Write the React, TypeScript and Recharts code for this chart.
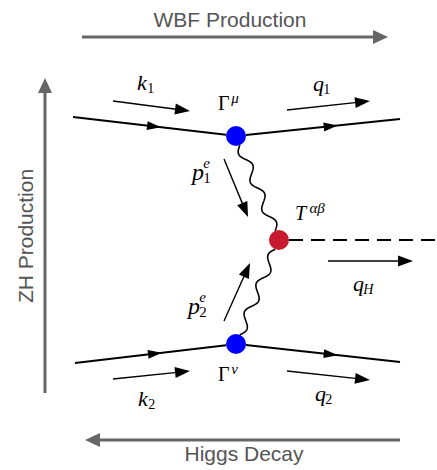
import React from 'react';
import { ScatterChart, XAxis, YAxis, Scatter, ReferenceLine } from 'recharts';

const WIDTH = 437;
const HEIGHT = 470;

// Diagram coordinates: x to the right, y downwards (y axis is reversed).
const vertices = [
  { x: 236, y: 136, kind: 'gauge' },
  { x: 279, y: 240, kind: 'tensor' },
  { x: 236, y: 344, kind: 'gauge' },
];

// quark lines, with the place of the flow arrow as a fraction of the leg
const quarkLegs = [
  { from: [73, 117], to: [236, 136], arrowAt: 0.54 },
  { from: [236, 136], to: [400, 119], arrowAt: 0.62 },
  { from: [75, 363], to: [236, 344], arrowAt: 0.54 },
  { from: [236, 344], to: [400, 362], arrowAt: 0.62 },
];

const bosonLinks = [
  { from: [236, 136], to: [279, 240] },
  { from: [279, 240], to: [236, 344] },
];

const higgsLegs = [{ from: [279, 240], to: [437, 240] }];

// k1, q1, p1, p2, qH, k2, q2
const momentumArrows = [
  { from: [113, 101], to: [190, 111] },
  { from: [287, 110], to: [370, 101] },
  { from: [224, 159], to: [248, 217] },
  { from: [224, 321], to: [250, 263] },
  { from: [328, 261], to: [413, 261] },
  { from: [113, 379], to: [190, 371] },
  { from: [287, 371], to: [370, 380] },
];

// WBF, ZH, Higgs decay
const channelArrows = [
  { from: [82, 37], to: [388, 37] },
  { from: [45, 393], to: [45, 78] },
  { from: [400, 440], to: [85, 440] },
];

const symbols = [
  { x: 137, y: 90, base: 'k', sub: '1', kind: 'momentum' },
  { x: 313, y: 91, base: 'q', sub: '1', kind: 'momentum' },
  { x: 218, y: 110, base: 'Γ', sup: 'μ', kind: 'vertex' },
  { x: 192, y: 180, base: 'p', sub: '1', sup: 'e', kind: 'exchange' },
  { x: 295, y: 220, base: 'T', sup: 'αβ', kind: 'vertex' },
  { x: 353, y: 291, base: 'q', sub: 'H', kind: 'momentum' },
  { x: 188, y: 314, base: 'p', sub: '2', sup: 'e', kind: 'exchange' },
  { x: 218, y: 381, base: 'Γ', sup: 'ν', kind: 'vertex' },
  { x: 138, y: 406, base: 'k', sub: '2', kind: 'momentum' },
  { x: 315, y: 401, base: 'q', sub: '2', kind: 'momentum' },
];

const captions = [
  { x: 230, y: 27, text: 'WBF Production', rotate: 0 },
  { x: 33, y: 236, text: 'ZH Production', rotate: -90 },
  { x: 244, y: 461, text: 'Higgs Decay', rotate: 0 },
];

const VERTEX_R = 10;
const VERTEX_FILL: Record<string, string> = { gauge: '#0000ff', tensor: '#c8192e' };
const GUIDE_GREY = '#666666';
const SERIF = "'Liberation Serif', 'Times New Roman', serif";
const SANS = "'Liberation Sans', Arial, Helvetica, sans-serif";

const SYMBOL_FONT: Record<string, { size: number; script: number; rise: number; drop: number }> = {
  momentum: { size: 22, script: 14, rise: 9, drop: 3 },
  exchange: { size: 24, script: 15, rise: 12, drop: 3 },
  vertex: { size: 20, script: 15, rise: 7, drop: 3 },
};
const GLYPH_EM: Record<string, number> = { k: 0.47, q: 0.47, p: 0.47, 'Γ': 0.66, T: 0.72 };

const unit = (x1: number, y1: number, x2: number, y2: number) => {
  const len = Math.hypot(x2 - x1, y2 - y1) || 1;
  return { ux: (x2 - x1) / len, uy: (y2 - y1) / len, len };
};

const touchesVertex = (px: number, py: number) =>
  vertices.some((v) => Math.abs(v.x - px) < 0.5 && Math.abs(v.y - py) < 0.5);

const arrowHead = (tx: number, ty: number, ux: number, uy: number, len: number, half: number) => {
  const bx = tx - ux * len;
  const by = ty - uy * len;
  return `${tx},${ty} ${bx - uy * half},${by + ux * half} ${bx + uy * half},${by - ux * half}`;
};

const num = (v: any) => Number(v);

// the ends of a line that sit on a vertex stop at the rim of the blob
const trimmed = (props: any, seg: { from: number[]; to: number[] }) => {
  let x1 = num(props.x1), y1 = num(props.y1), x2 = num(props.x2), y2 = num(props.y2);
  const { ux, uy } = unit(x1, y1, x2, y2);
  if (touchesVertex(seg.from[0], seg.from[1])) { x1 += ux * VERTEX_R; y1 += uy * VERTEX_R; }
  if (touchesVertex(seg.to[0], seg.to[1])) { x2 -= ux * VERTEX_R; y2 -= uy * VERTEX_R; }
  return { x1, y1, x2, y2 };
};

const quarkShape = (seg: any) => (props: any) => {
  const x1 = num(props.x1), y1 = num(props.y1), x2 = num(props.x2), y2 = num(props.y2);
  const t = trimmed(props, seg);
  const { ux, uy } = unit(x1, y1, x2, y2);
  const tx = x1 + (x2 - x1) * seg.arrowAt;
  const ty = y1 + (y2 - y1) * seg.arrowAt;
  return (
    <g>
      <line x1={t.x1} y1={t.y1} x2={t.x2} y2={t.y2} stroke="#000" strokeWidth={2} />
      <polygon points={arrowHead(tx, ty, ux, uy, 14, 4.5)} fill="#000" />
    </g>
  );
};

const bosonShape = (seg: any) => (props: any) => {
  const t = trimmed(props, seg);
  const { ux, uy, len } = unit(t.x1, t.y1, t.x2, t.y2);
  const periods = 3;
  const amp = 4.5;
  const steps = 160;
  let d = '';
  for (let i = 0; i <= steps; i += 1) {
    const s = i / steps;
    const off = amp * Math.sin(2 * Math.PI * periods * s);
    const x = t.x1 + ux * len * s - uy * off;
    const y = t.y1 + uy * len * s + ux * off;
    d += `${i === 0 ? 'M' : 'L'}${x.toFixed(2)},${y.toFixed(2)}`;
  }
  return <path d={d} fill="none" stroke="#000" strokeWidth={1.6} strokeLinejoin="round" />;
};

const higgsShape = (seg: any) => (props: any) => {
  const t = trimmed(props, seg);
  return <line x1={t.x1} y1={t.y1} x2={t.x2} y2={t.y2} stroke="#000" strokeWidth={2} strokeDasharray="14 8" />;
};

const momentumShape = (props: any) => {
  const x1 = num(props.x1), y1 = num(props.y1), x2 = num(props.x2), y2 = num(props.y2);
  const { ux, uy } = unit(x1, y1, x2, y2);
  return (
    <g>
      <line x1={x1} y1={y1} x2={x2 - ux * 8} y2={y2 - uy * 8} stroke="#000" strokeWidth={1.4} />
      <polygon points={arrowHead(x2, y2, ux, uy, 15, 5.5)} fill="#000" />
    </g>
  );
};

const channelShape = (props: any) => {
  const x1 = num(props.x1), y1 = num(props.y1), x2 = num(props.x2), y2 = num(props.y2);
  const { ux, uy } = unit(x1, y1, x2, y2);
  return (
    <g>
      <line x1={x1} y1={y1} x2={x2 - ux * 8} y2={y2 - uy * 8} stroke={GUIDE_GREY} strokeWidth={3} />
      <polygon points={arrowHead(x2, y2, ux, uy, 15, 7)} fill={GUIDE_GREY} />
    </g>
  );
};

const VertexShape = (props: any) => {
  const { cx, cy, payload } = props;
  return <circle cx={cx} cy={cy} r={VERTEX_R} fill={VERTEX_FILL[payload.kind]} />;
};

const SymbolShape = (props: any) => {
  const { cx, cy, payload } = props;
  const f = SYMBOL_FONT[payload.kind];
  const adv = f.size * (GLYPH_EM[payload.base] ?? 0.5);
  const upright = payload.base === 'Γ';
  const scriptStyle = (s: string) => (/^\d+$/.test(s) ? 'normal' : 'italic');
  return (
    <g fontFamily={SERIF} fill="#000">
      <text x={cx} y={cy} fontSize={f.size} fontStyle={upright ? 'normal' : 'italic'}>
        {payload.base}
      </text>
      {payload.sup && (
        <text x={cx + adv} y={cy - f.rise} fontSize={f.script} fontStyle={scriptStyle(payload.sup)}>
          {payload.sup}
        </text>
      )}
      {payload.sub && (
        <text x={cx + adv} y={cy + f.drop} fontSize={f.script} fontStyle={scriptStyle(payload.sub)}>
          {payload.sub}
        </text>
      )}
    </g>
  );
};

const CaptionShape = (props: any) => {
  const { cx, cy, payload } = props;
  return (
    <text
      x={cx}
      y={cy}
      textAnchor="middle"
      fontFamily={SANS}
      fontSize={21}
      fill="#555555"
      transform={payload.rotate ? `rotate(${payload.rotate}, ${cx}, ${cy})` : undefined}
    >
      {payload.text}
    </text>
  );
};

const seg = (s: { from: number[]; to: number[] }) => [
  { x: s.from[0], y: s.from[1] },
  { x: s.to[0], y: s.to[1] },
];

export default function App() {
  return (
    <div style={{ position: 'absolute', left: 0, top: 0, background: '#fff' }}>
      <ScatterChart width={WIDTH} height={HEIGHT} margin={{ top: 0, right: 0, bottom: 0, left: 0 }}>
        <XAxis type="number" dataKey="x" domain={[0, WIDTH]} allowDataOverflow hide />
        <YAxis type="number" dataKey="y" domain={[0, HEIGHT]} allowDataOverflow reversed hide />

        {channelArrows.map((s, i) => (
          <ReferenceLine key={`ch-${i}`} segment={seg(s)} ifOverflow="visible" shape={channelShape} />
        ))}
        {quarkLegs.map((s, i) => (
          <ReferenceLine key={`qk-${i}`} segment={seg(s)} ifOverflow="visible" shape={quarkShape(s)} />
        ))}
        {bosonLinks.map((s, i) => (
          <ReferenceLine key={`bo-${i}`} segment={seg(s)} ifOverflow="visible" shape={bosonShape(s)} />
        ))}
        {higgsLegs.map((s, i) => (
          <ReferenceLine key={`hg-${i}`} segment={seg(s)} ifOverflow="visible" shape={higgsShape(s)} />
        ))}
        {momentumArrows.map((s, i) => (
          <ReferenceLine key={`mo-${i}`} segment={seg(s)} ifOverflow="visible" shape={momentumShape} />
        ))}

        <Scatter data={vertices} shape={VertexShape} isAnimationActive={false} />
        <Scatter data={symbols} shape={SymbolShape} isAnimationActive={false} />
        <Scatter data={captions} shape={CaptionShape} isAnimationActive={false} />
      </ScatterChart>
    </div>
  );
}
